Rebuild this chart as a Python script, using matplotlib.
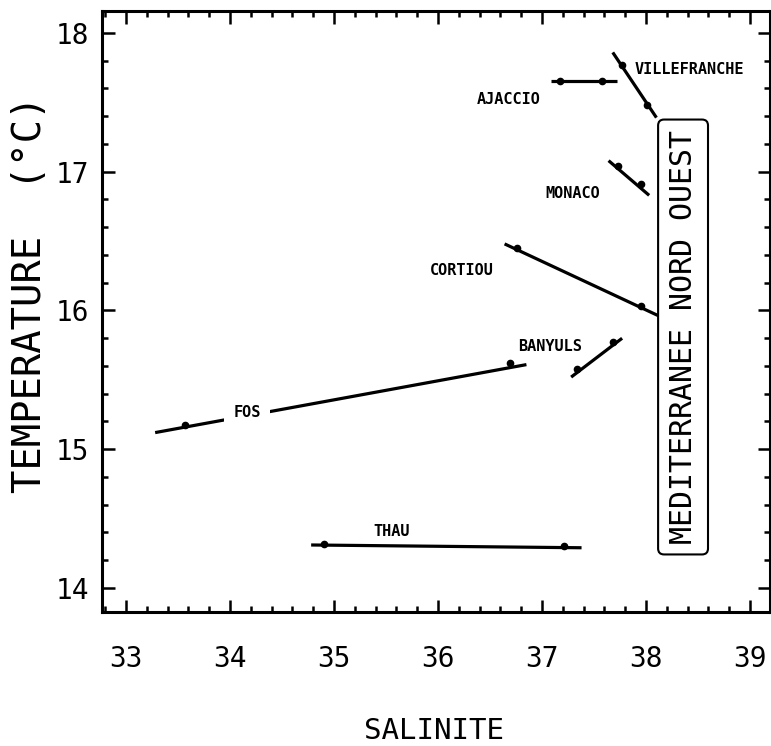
import matplotlib.pyplot as plt
from matplotlib.ticker import MultipleLocator

# stations: fitted T-S line (two ends) and the two measured points
stations = ['VILLEFRANCHE', 'AJACCIO', 'MONACO', 'CORTIOU', 'BANYULS', 'FOS', 'THAU']
line_sal = [(37.68, 38.10), (37.09, 37.72), (37.64, 38.03), (36.64, 38.14),
            (37.28, 37.77), (33.28, 36.85), (34.78, 37.38)]
line_temp = [(17.86, 17.39), (17.656, 17.656), (17.08, 16.83), (16.48, 15.955),
             (15.52, 15.80), (15.12, 15.61), (14.31, 14.29)]
pt_sal = [(37.77, 38.01), (37.17, 37.58), (37.73, 37.95), (36.76, 37.95),
          (37.34, 37.68), (33.57, 36.69), (34.90, 37.21)]
pt_temp = [(17.77, 17.48), (17.656, 17.656), (17.04, 16.91), (16.45, 16.03),
           (15.58, 15.77), (15.175, 15.62), (14.32, 14.30)]
label_xy = [(38.42, 17.74), (36.68, 17.52), (37.30, 16.845), (36.23, 16.286),
            (37.08, 15.744), (34.165, 15.263), (35.555, 14.406)]

xticks = [33, 34, 35, 36, 37, 38, 39]
yticks = [14, 15, 16, 17, 18]

plt.rcParams['font.family'] = ['DejaVu Sans Mono', 'DejaVu Sans']

fig = plt.figure(figsize=(7.71, 7.46), dpi=100)
ax = fig.add_axes([0.1323, 0.18, 0.8664, 0.8059])

for i, name in enumerate(stations):
    ax.plot(line_sal[i], line_temp[i], color='black', lw=2.3, solid_capstyle='butt', zorder=2)
    ax.plot(pt_sal[i], pt_temp[i], 'o', color='black', ms=4.5, zorder=3)
    if name == 'FOS':
        # label sits in a break of the line
        ax.text(*label_xy[i], name, weight='bold', fontsize=11,
                ha='center', va='center', zorder=4,
                bbox=dict(boxstyle='square,pad=0.6', fc='white', ec='none'))
    else:
        ax.text(*label_xy[i], name, weight='bold', fontsize=11,
                ha='center', va='center', zorder=4)

ax.text(38.356, 15.809, 'MEDITERRANEE NORD OUEST', fontsize=21.5,
        rotation=90, ha='center', va='center',
        bbox=dict(boxstyle='round,pad=0.35,rounding_size=0.2', fc='white', ec='black', lw=1.5))

ax.set_xlim(32.769, 39.192)
ax.set_ylim(13.829, 18.162)
ax.set_xticks(xticks)
ax.set_yticks(yticks)
ax.xaxis.set_minor_locator(MultipleLocator(0.2))
ax.yaxis.set_minor_locator(MultipleLocator(0.2))
ax.tick_params(which='both', direction='in', top=True, right=True, width=1.8, color='black')
ax.tick_params(which='major', length=9)
ax.tick_params(which='minor', length=4.5)
ax.tick_params(axis='x', which='major', pad=24, labelsize=20)
ax.tick_params(axis='y', which='major', pad=9, labelsize=20)
for sp in ax.spines.values():
    sp.set_linewidth(2.2)

fig.text(434 / 771, 1 - 731 / 746, 'SALINITE', fontsize=21,
         ha='center', va='center')
fig.text(30 / 771, 1 - 294 / 746, 'TEMPERATURE  (°C)', fontsize=28,
         rotation=90, ha='center', va='center')

fig.savefig('out.png', dpi=100)
